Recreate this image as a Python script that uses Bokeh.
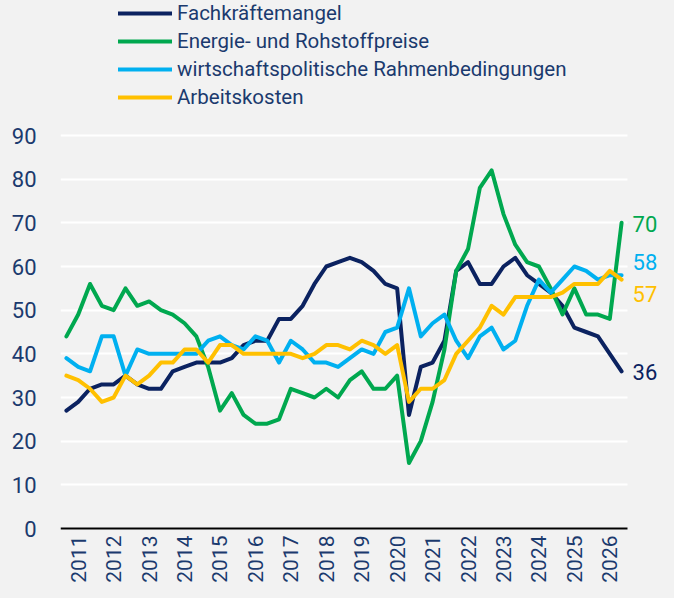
from math import pi

from bokeh.plotting import figure
from bokeh.models import (ColumnDataSource, FixedTicker, Legend, LegendItem,
                          Label, Range1d)
from bokeh.embed import file_html
from bokeh.resources import INLINE

# ---------------- data (3 survey waves per year) ----------------
years = ["2011", "2012", "2013", "2014", "2015", "2016", "2017", "2018",
         "2019", "2020", "2021", "2022", "2023", "2024", "2025", "2026"]

fachkraefte = [27, 29, 32, 33, 33, 35, 33, 32, 32, 36, 37, 38, 38, 38, 39, 42,
               43, 43, 48, 48, 51, 56, 60, 61, 62, 61, 59, 56, 55, 26, 37, 38,
               43, 59, 61, 56, 56, 60, 62, 58, 56, 54, 51, 46, 45, 44, 40, 36]
energie = [44, 49, 56, 51, 50, 55, 51, 52, 50, 49, 47, 44, 37, 27, 31, 26,
           24, 24, 25, 32, 31, 30, 32, 30, 34, 36, 32, 32, 35, 15, 20, 29,
           41, 59, 64, 78, 82, 72, 65, 61, 60, 55, 49, 55, 49, 49, 48, 70]
politik = [39, 37, 36, 44, 44, 35, 41, 40, 40, 40, 40, 40, 43, 44, 42, 41,
           44, 43, 38, 43, 41, 38, 38, 37, 39, 41, 40, 45, 46, 55, 44, 47,
           49, 43, 39, 44, 46, 41, 43, 51, 57, 54, 57, 60, 59, 57, 58, 58]
arbeitskosten = [35, 34, 32, 29, 30, 35, 33, 35, 38, 38, 41, 41, 38, 42, 42, 40,
                 40, 40, 40, 40, 39, 40, 42, 42, 41, 43, 42, 40, 42, 29, 32, 32,
                 34, 40, 43, 46, 51, 49, 53, 53, 53, 53, 54, 56, 56, 56, 59, 57]

series_names = ["Fachkräftemangel", "Energie- und Rohstoffpreise",
                "wirtschaftspolitische Rahmenbedingungen", "Arbeitskosten"]
y_ticks = [0, 10, 20, 30, 40, 50, 60, 70, 80, 90]

# ---------------- style ----------------
NAVY = "#0b2260"
GREEN = "#00a84f"
BLUE = "#00b0f0"
GOLD = "#ffc000"
TEXT = "#1b3a6e"
BG = "#f2f2f2"
FONT = "Roboto"

W, H = 658, 582
LEFT = 60                 # room for the y tick labels
PX_PER_UNIT = 393 / 90    # vertical scale of the reference
ZERO_FROM_TOP = 528       # pixel row of the value 0 inside the figure
PX_PER_X = 567 / 48       # horizontal scale of the reference

n = len(fachkraefte)
x = list(range(n))
src = ColumnDataSource(dict(x=x, f=fachkraefte, e=energie, p=politik, a=arbeitskosten))

x_end = -0.5 + (W - LEFT) / PX_PER_X
y_end = ZERO_FROM_TOP / PX_PER_UNIT
y_start = -(H - ZERO_FROM_TOP) / PX_PER_UNIT

p = figure(width=W, height=H, output_backend="svg", toolbar_location=None,
           x_range=Range1d(-0.5, x_end), y_range=Range1d(y_start, y_end),
           min_border_left=LEFT, min_border_right=0,
           min_border_top=0, min_border_bottom=0)
p.background_fill_color = BG
p.border_fill_color = BG
p.outline_line_color = None

# y axis
p.yaxis.ticker = FixedTicker(ticks=y_ticks)
p.yaxis.axis_line_color = None
p.yaxis.major_tick_line_color = None
p.yaxis.minor_tick_line_color = None
p.yaxis.major_tick_out = 0
p.yaxis.major_label_text_font = FONT
p.yaxis.major_label_text_font_size = "22px"
p.yaxis.major_label_text_color = TEXT
p.yaxis.major_label_standoff = 24

# x axis: one label per year, centred on the middle wave, drawn at y = 0
tick_pos = [3 * k + 1 for k in range(len(years))]
p.xaxis.ticker = FixedTicker(ticks=tick_pos)
p.xaxis.major_label_overrides = {t: yr for t, yr in zip(tick_pos, years)}
p.xaxis.major_label_orientation = pi / 2
p.xaxis.fixed_location = 0
p.xaxis.bounds = (-0.5, n - 0.5)
p.xaxis.axis_line_color = "black"
p.xaxis.axis_line_width = 2
p.xaxis.major_tick_line_color = None
p.xaxis.minor_tick_line_color = None
p.xaxis.major_tick_out = 0
p.xaxis.major_label_text_font = FONT
p.xaxis.major_label_text_font_size = "21px"
p.xaxis.major_label_text_color = TEXT
p.xaxis.major_label_standoff = 7

p.xgrid.visible = False
p.ygrid.grid_line_color = "white"
p.ygrid.grid_line_width = 2
p.ygrid.cross_bounds = (-0.5, n - 0.5)

kw = dict(line_width=4, line_join="round", line_cap="round")
r_f = p.line("x", "f", source=src, color=NAVY, **kw)
r_e = p.line("x", "e", source=src, color=GREEN, **kw)
r_p = p.line("x", "p", source=src, color=BLUE, **kw)
r_a = p.line("x", "a", source=src, color=GOLD, **kw)

legend = Legend(
    items=[LegendItem(label=series_names[0], renderers=[r_f]),
           LegendItem(label=series_names[1], renderers=[r_e]),
           LegendItem(label=series_names[2], renderers=[r_p]),
           LegendItem(label=series_names[3], renderers=[r_a])],
    location=(58, 473), orientation="vertical",
    background_fill_alpha=0, border_line_color=None,
    padding=0, margin=0, spacing=4,
    glyph_width=54, glyph_height=20, label_height=20, label_standoff=5,
    label_text_font=FONT, label_text_font_size="20.5px", label_text_color=TEXT,
)
p.add_layout(legend)

# end-of-line value labels
last_vals = [energie[-1], politik[-1], arbeitskosten[-1], fachkraefte[-1]]
colors = [GREEN, BLUE, GOLD, NAVY]
y_shift = [-1, 13, -14, -1]
for v, c, dy in zip(last_vals, colors, y_shift):
    p.add_layout(Label(x=n - 1, y=v, x_offset=11, y_offset=dy, text=str(v),
                       text_font=FONT, text_font_size="22px", text_color=c,
                       text_align="left", text_baseline="middle"))

page_style = ("{% block postamble %}<style>html, body { background-color: #f2f2f2; }"
              "</style>{% endblock %}")
open("out.html", "w").write(file_html(p, INLINE, template=page_style))
